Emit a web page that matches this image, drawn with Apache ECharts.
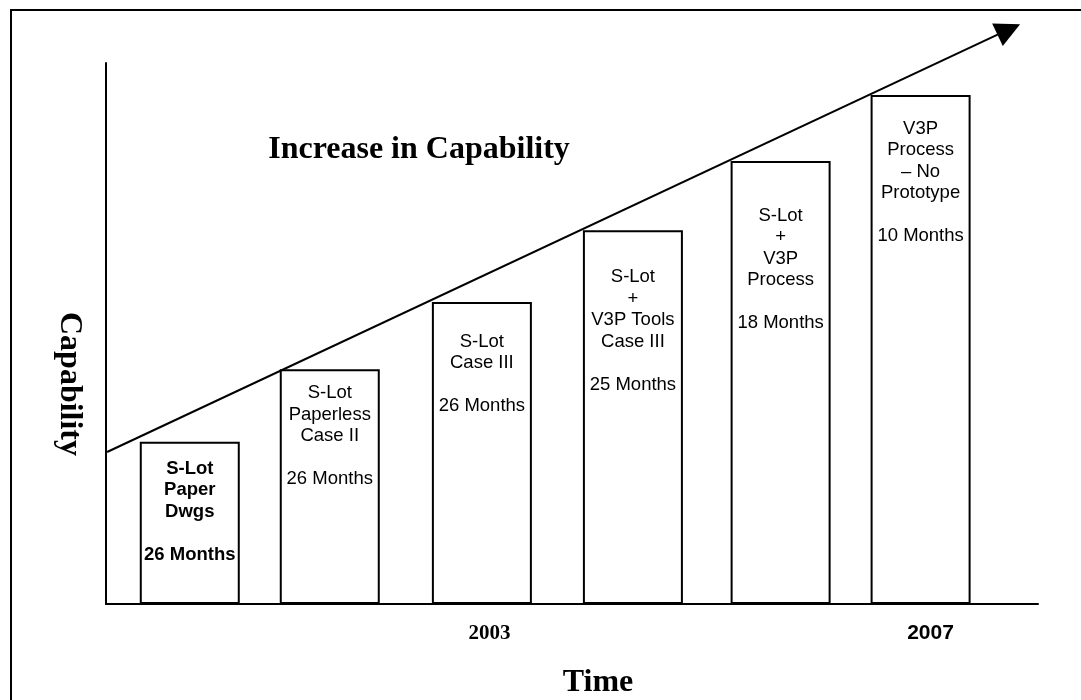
<!DOCTYPE html>
<html>
<head>
<meta charset="utf-8">
<title>Increase in Capability</title>
<script src="https://cdn.jsdelivr.net/npm/echarts@6/dist/echarts.min.js"></script>
<style>
  html, body { margin: 0; padding: 0; background: #fff; }
  #chart { width: 1081px; height: 700px; }
</style>
</head>
<body>
<div id="chart"></div>
<script>
// Program stages, their development time and relative capability
const stages = [
  'S-Lot\nPaper\nDwgs',
  'S-Lot\nPaperless\nCase II',
  'S-Lot\nCase III',
  'S-Lot\n+\nV3P Tools\nCase III',
  'S-Lot\n+\nV3P\nProcess',
  'V3P\nProcess\n– No\nPrototype'
];
const months = [26, 26, 26, 25, 18, 10];
const stageYear = [2000.28, 2001.55, 2002.93, 2004.30, 2005.64, 2006.91];
const capability = [30.0, 43.4, 55.8, 69.1, 81.9, 94.1];
const yearTicks = [2003, 2007];
// Trend arrow, from (year, capability) to (year, capability)
const trendFrom = [1999.53, 28.1];
const trendTo = [2007.71, 106.2];

// Gap between each bar's top edge and its label block
const labelGap = [16, 13, 29, 36, 44, 23];

const SANS = '"Liberation Sans", Arial, sans-serif';
const SERIF = '"Liberation Serif", "Times New Roman", serif';

const barData = stages.map((s, i) => ({
  value: [stageYear[i], capability[i]],
  label: {
    distance: labelGap[i],
    fontWeight: i === 0 ? 'bold' : 'normal'
  }
}));

const chart = echarts.init(document.getElementById('chart'), null, { renderer: 'canvas' });

chart.setOption({
  animation: false,
  backgroundColor: '#fff',
  grid: { left: 106, right: 43, top: 63, bottom: 96, containLabel: false },
  xAxis: {
    type: 'value',
    min: 1999.52,
    max: 2007.975,
    axisLine: { show: true, lineStyle: { color: '#000', width: 2 } },
    axisTick: { show: false },
    splitLine: { show: false },
    axisLabel: {
      customValues: yearTicks,
      margin: 19,
      formatter: v => (v === yearTicks[0] ? '{serif|' : '{sans|') + v + '}',
      rich: {
        serif: { fontFamily: SERIF, fontWeight: 'bold', fontSize: 21, color: '#000' },
        sans: { fontFamily: SANS, fontWeight: 'bold', fontSize: 21, color: '#000' }
      }
    }
  },
  yAxis: {
    type: 'value',
    min: 0,
    max: 100,
    axisLine: { show: true, lineStyle: { color: '#000', width: 2 } },
    axisTick: { show: false },
    axisLabel: { show: false },
    splitLine: { show: false }
  },
  series: [
    {
      type: 'bar',
      data: barData,
      barWidth: 100,
      itemStyle: { color: '#fff', borderColor: '#000', borderWidth: 2 },
      label: {
        show: true,
        position: 'insideTop',
        color: '#000',
        fontFamily: SANS,
        fontSize: 18.5,
        lineHeight: 21.5,
        align: 'center',
        formatter: p => stages[p.dataIndex] + '\n\n' + months[p.dataIndex] + ' Months'
      },
      z: 2
    },
    {
      type: 'lines',
      coordinateSystem: 'cartesian2d',
      clip: false,
      symbol: ['none', 'triangle'],
      symbolSize: [24, 25],
      lineStyle: { color: '#000', width: 2, opacity: 1, curveness: 0 },
      itemStyle: { color: '#000' },
      data: [{ coords: [trendFrom, trendTo] }],
      z: 3
    }
  ],
  graphic: [
    {
      type: 'rect',
      shape: { x: 11, y: 10, width: 1200, height: 900 },
      style: { fill: 'none', stroke: '#000', lineWidth: 2 },
      silent: true
    },
    {
      type: 'text',
      x: 419, y: 150,
      style: {
        text: 'Increase in Capability',
        font: 'bold 32px ' + SERIF,
        fill: '#000',
        textAlign: 'center',
        textVerticalAlign: 'middle'
      }
    },
    {
      type: 'text',
      x: 598, y: 683,
      style: {
        text: 'Time',
        font: 'bold 32px ' + SERIF,
        fill: '#000',
        textAlign: 'center',
        textVerticalAlign: 'middle'
      }
    },
    {
      type: 'text',
      x: 69, y: 384,
      rotation: -Math.PI / 2,
      style: {
        text: 'Capability',
        font: 'bold 32px ' + SERIF,
        fill: '#000',
        textAlign: 'center',
        textVerticalAlign: 'middle'
      }
    }
  ]
});
</script>
</body>
</html>
